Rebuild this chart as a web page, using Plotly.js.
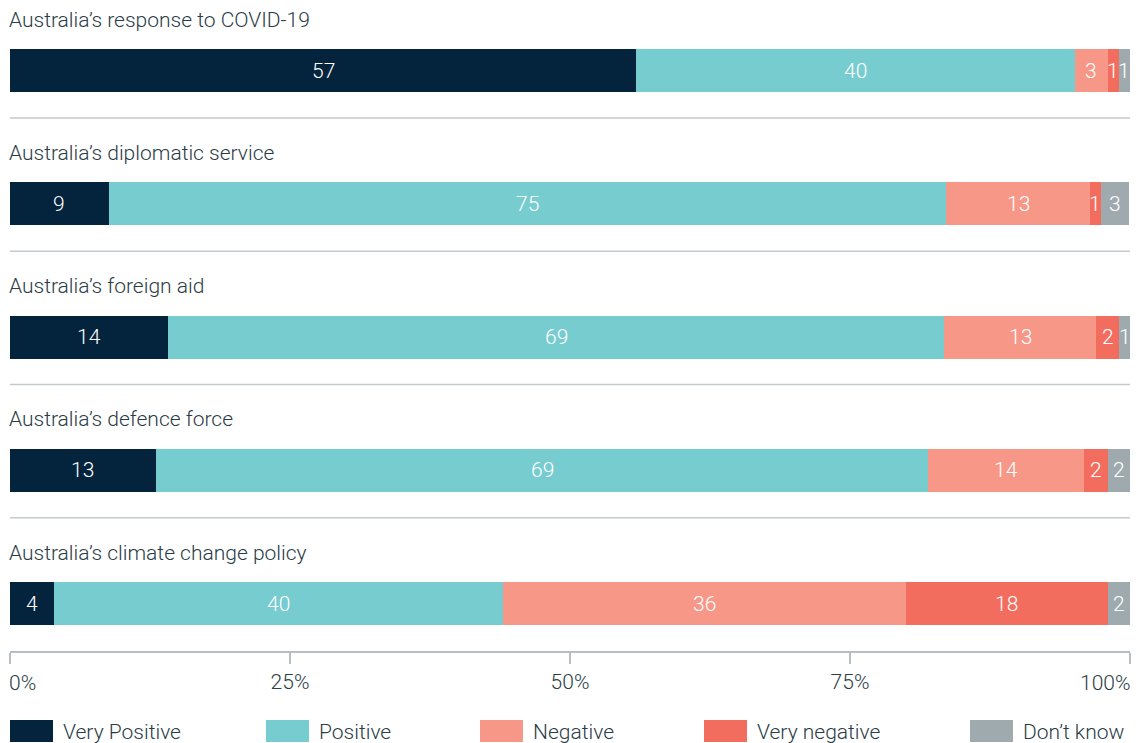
<!DOCTYPE html>
<html>
<head>
<meta charset="utf-8">
<script src="https://cdn.plot.ly/plotly-3.0.1.min.js"></script>
<style>html,body{margin:0;padding:0;background:#fff;}#chart{width:1145px;height:743px;}</style>
</head>
<body>
<div id="chart"></div>
<script>
const categories = [
  "Australia’s response to COVID-19",
  "Australia’s diplomatic service",
  "Australia’s foreign aid",
  "Australia’s defence force",
  "Australia’s climate change policy"
];
const seriesNames = ["Very Positive", "Positive", "Negative", "Very negative", "Don’t know"];
// bar shares (%)
const veryPositive = [55.9, 8.8, 14.1, 13.0, 3.9];
const positive = [39.2, 74.8, 69.3, 69.0, 40.1];
const negative = [2.9, 12.8, 13.6, 13.9, 36.0];
const veryNegative = [1.0, 1.0, 2.05, 2.1, 18.0];
const dontKnow = [1.0, 2.5, 1.0, 2.0, 2.0];
// labels printed on the bars
const veryPositiveLabels = [57, 9, 14, 13, 4];
const positiveLabels = [40, 75, 69, 69, 40];
const negativeLabels = [3, 13, 13, 14, 36];
const veryNegativeLabels = [1, 1, 2, 2, 18];
const dontKnowLabels = [1, 3, 1, 2, 2];
const tickValues = [0, 25, 50, 75, 100];
const tickLabels = ["0%", "25%", "50%", "75%", "100%"];

const colors = ["#04243d", "#77cccf", "#f69787", "#f36d5f", "#9eaaae"];
const seriesValues = [veryPositive, positive, negative, veryNegative, dontKnow];
const seriesLabels = [veryPositiveLabels, positiveLabels, negativeLabels, veryNegativeLabels, dontKnowLabels];
const rows = categories.map((c, i) => i);
const FONT = "Roboto, 'Noto Sans', sans-serif";
const TXT = "#2a3c46";

const traces = seriesValues.map((vals, k) => ({
  type: "bar",
  orientation: "h",
  name: seriesNames[k],
  y: rows,
  x: vals,
  marker: {color: colors[k], line: {width: 0}},
  width: 0.323,
  hoverinfo: "skip",
  showlegend: false
}));

// geometry helpers (pixel -> paper)
const W = 1145, H = 743, mL = 10, mR = 15, mT = 0, mB = 92;
const plotH = H - mT - mB, plotW = W - mL - mR;
const py = p => (H - mB - p) / plotH;
const px = p => (p - mL) / plotW;

const annotations = [];
const shapes = [];

// in-bar value labels
categories.forEach((c, i) => {
  let cum = 0;
  seriesValues.forEach((vals, k) => {
    const mid = cum + vals[i] / 2;
    cum += vals[i];
    annotations.push({
      x: mid, xref: "x", xanchor: "center",
      y: i, yref: "y", yanchor: "middle",
      text: String(seriesLabels[k][i]), showarrow: false,
      borderpad: 0, borderwidth: 0,
      font: {family: FONT, size: 21, color: "#ffffff", weight: 300}
    });
  });
});

categories.forEach((c, i) => {
  annotations.push({
    x: 0, xref: "paper", xanchor: "left", xshift: -1,
    y: i - 0.382, yref: "y", yanchor: "middle",
    text: c, showarrow: false, borderpad: 0, borderwidth: 0,
    font: {family: FONT, size: 21, color: TXT, weight: 300}
  });
  if (i < categories.length - 1) {
    shapes.push({
      type: "line", xref: "paper", x0: 0, x1: 1,
      yref: "y", y0: i + 0.356, y1: i + 0.356,
      line: {color: "#c3c9cd", width: 1.5}
    });
  }
});
// edge tick labels
annotations.push({x: 0, xref: "x", xanchor: "left", xshift: -1, y: py(683), yref: "paper", yanchor: "middle",
  borderpad: 0, borderwidth: 0,
  text: tickLabels[0], showarrow: false, font: {family: FONT, size: 21, color: TXT, weight: 300}});
annotations.push({x: 100, xref: "x", xanchor: "right", xshift: 0, y: py(683), yref: "paper", yanchor: "middle",
  borderpad: 0, borderwidth: 0,
  text: tickLabels[4], showarrow: false, font: {family: FONT, size: 21, color: TXT, weight: 300}});

// custom legend
const legendX = [10, 266, 480, 704, 970];
seriesNames.forEach((n, k) => {
  shapes.push({type: "rect", xref: "paper", yref: "paper",
    x0: px(legendX[k]), x1: px(legendX[k] + 43), y0: py(742), y1: py(720),
    fillcolor: colors[k], line: {width: 0}});
  annotations.push({x: px(legendX[k] + 53), xref: "paper", xanchor: "left",
    y: py(732), yref: "paper", yanchor: "middle", text: n, showarrow: false,
    borderpad: 0, borderwidth: 0,
    font: {family: FONT, size: 21, color: TXT, weight: 300}});
});

const layout = {
  width: W, height: H,
  margin: {l: mL, r: mR, t: mT, b: mB, pad: 0},
  barmode: "stack",
  paper_bgcolor: "#ffffff",
  plot_bgcolor: "#ffffff",
  showlegend: false,
  xaxis: {
    range: [0, 100], tickvals: tickValues,
    ticktext: tickLabels.map((t, i) => (i === 0 || i === tickLabels.length - 1) ? "" : t),
    showgrid: false, zeroline: false, showline: true, linecolor: "#b7bfc4", linewidth: 1.5,
    ticks: "outside", ticklen: 11, tickcolor: "#b7bfc4", tickwidth: 1.5,
    tickfont: {family: FONT, size: 21, color: TXT, weight: 300},
    fixedrange: true
  },
  yaxis: {
    range: [4.356, -0.529], showgrid: false, zeroline: false, showline: false,
    showticklabels: false, ticks: "", fixedrange: true
  },
  annotations: annotations,
  shapes: shapes
};

Plotly.newPlot("chart", traces, layout, {displayModeBar: false, staticPlot: true});
</script>
</body>
</html>
